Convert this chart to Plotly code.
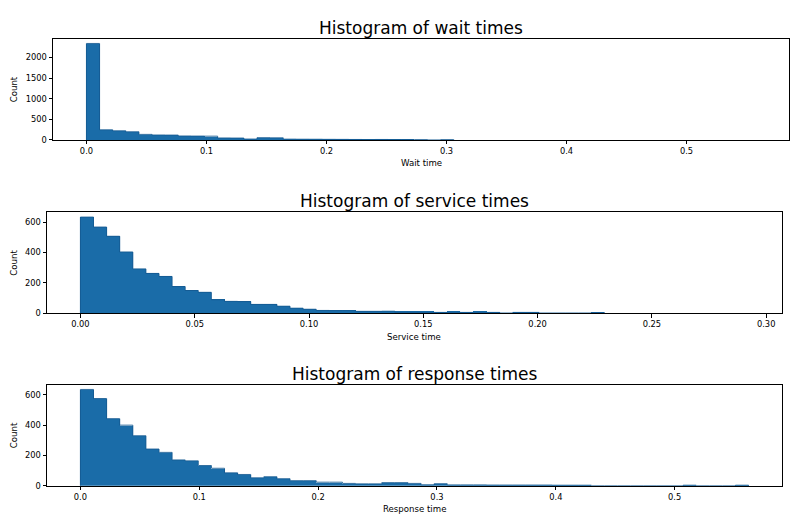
import plotly.graph_objects as go

# ---- data ----
n_bins = 51
wait_max = 0.5575
service_max = 0.2923
response_max = 0.5622

wait_counts = [2340, 247, 223, 199, 135, 120, 118, 96, 94, 92, 48, 46, 22, 55, 52,
               20, 18, 17, 15, 14, 12, 10, 12, 10, 9, 8, 0, 8] + [0] * 23
service_counts = [635, 569, 508, 404, 292, 262, 242, 175, 149, 137, 88, 77, 76, 57, 57,
                  45, 32, 25, 17, 16, 16, 11, 11, 12, 5, 5, 5, 4, 5, 4, 5, 4, 0, 4, 4,
                  0, 0, 0, 0, 3] + [0] * 11
response_counts = [636, 576, 443, 400, 330, 242, 220, 170, 164, 133, 115, 85, 74, 52, 59,
                   46, 33, 33, 23, 23, 15, 12, 12, 20, 20, 15, 6, 13, 5, 5, 5, 4, 4, 4,
                   4, 4, 3, 3, 3, 0, 0, 0, 0, 0, 0, 0, 3, 0, 0, 0, 3]

titles = ["Histogram of wait times", "Histogram of service times", "Histogram of response times"]
xlabels = ["Wait time", "Service time", "Response time"]
ylabel = "Count"
x_tickvals = [[0.0, 0.1, 0.2, 0.3, 0.4, 0.5],
              [0.0, 0.05, 0.10, 0.15, 0.20, 0.25, 0.30],
              [0.0, 0.1, 0.2, 0.3, 0.4, 0.5]]
x_ticktext = [["0.0", "0.1", "0.2", "0.3", "0.4", "0.5"],
              ["0.00", "0.05", "0.10", "0.15", "0.20", "0.25", "0.30"],
              ["0.0", "0.1", "0.2", "0.3", "0.4", "0.5"]]
y_tickvals = [[0, 500, 1000, 1500, 2000], [0, 200, 400, 600], [0, 200, 400, 600]]

series = [(wait_counts, wait_max), (service_counts, service_max), (response_counts, response_max)]

# ---- layout (pixels in an 800x530 page) ----
W, H = 800, 530
panels = [  # x0, x1, ytop, ybottom
    (53, 789, 39, 141.3),
    (47, 782, 214.3, 316),
    (47, 782, 388.3, 490.3),
]
title_y = [28, 203, 377.5]
xlabel_y = [165, 340.5, 514]

FILL = "#1a6ca8"
EDGE = "#155a92"
FONT = "DejaVu Sans"

fig = go.Figure()
annotations = []
layout = dict(
    width=W, height=H, margin=dict(l=0, r=0, t=0, b=0),
    paper_bgcolor="white", plot_bgcolor="white", showlegend=False,
    font=dict(family=FONT, color="black", size=8.3),
)

for i, ((counts, dmax), (x0, x1, yt, yb)) in enumerate(zip(series, panels)):
    width = dmax / n_bins
    edges = [k * width for k in range(n_bins + 1)]
    xa = "x" if i == 0 else f"x{i+1}"
    ya = "y" if i == 0 else f"y{i+1}"
    fig.add_trace(go.Bar(
        x=edges[:-1], y=counts, width=[width] * n_bins, offset=0,
        marker=dict(color=FILL, line=dict(width=0)),
        xaxis=xa, yaxis=ya, hoverinfo="skip",
    ))
    # outline of the step histogram, drawn up to the last non-empty bin
    last = max(k for k, c in enumerate(counts) if c > 0) + 1
    sx = [0.0] + edges[:last + 1] + [edges[last]]
    sy = [0] + list(counts[:last]) + [counts[last - 1], 0]
    fig.add_trace(go.Scatter(
        x=sx, y=sy, mode="lines", line=dict(color=EDGE, width=0.9, shape="hv"),
        xaxis=xa, yaxis=ya, hoverinfo="skip",
    ))
    key = "" if i == 0 else str(i + 1)
    ymax = max(counts)
    layout["xaxis" + key] = dict(
        domain=[x0 / W, x1 / W], anchor=ya,
        range=[-0.05 * dmax, 1.05 * dmax],
        tickvals=x_tickvals[i], ticktext=x_ticktext[i],
        showline=True, mirror=True, linecolor="black", linewidth=1,
        ticks="outside", ticklen=3.5, tickwidth=0.8, tickcolor="black",
        showgrid=False, zeroline=False, fixedrange=True, layer="above traces",
        tickfont=dict(family=FONT, size=8.3, color="black"),
    )
    layout["yaxis" + key] = dict(
        domain=[1 - yb / H, 1 - yt / H], anchor=xa,
        range=[0, 1.05 * ymax],
        tickvals=y_tickvals[i],
        showline=True, mirror=True, linecolor="black", linewidth=1,
        ticks="outside", ticklen=3.5, tickwidth=0.8, tickcolor="black",
        showgrid=False, zeroline=False, fixedrange=True,
        tickfont=dict(family=FONT, size=8.3, color="black"),
    )
    cx = (x0 + x1) / 2 / W
    annotations.append(dict(
        text=titles[i], x=cx, y=1 - title_y[i] / H, xref="paper", yref="paper",
        xanchor="center", yanchor="middle", showarrow=False,
        font=dict(family=FONT, size=17, color="black"),
    ))
    annotations.append(dict(
        text=xlabels[i], x=cx, y=1 - xlabel_y[i] / H, xref="paper", yref="paper",
        xanchor="center", yanchor="middle", showarrow=False,
        font=dict(family=FONT, size=8.6, color="black"),
    ))
    annotations.append(dict(
        text=ylabel, x=14 / W, y=1 - (yt + yb) / 2 / H, xref="paper", yref="paper",
        xanchor="center", yanchor="middle", textangle=-90, showarrow=False,
        font=dict(family=FONT, size=8.6, color="black"),
    ))

layout["annotations"] = annotations
layout["bargap"] = 0
fig.update_layout(**layout)
fig.write_html(
    "out.html",
    config={"displayModeBar": False},
    post_script="document.body.style.margin='0';document.body.style.overflow='hidden';",
)
